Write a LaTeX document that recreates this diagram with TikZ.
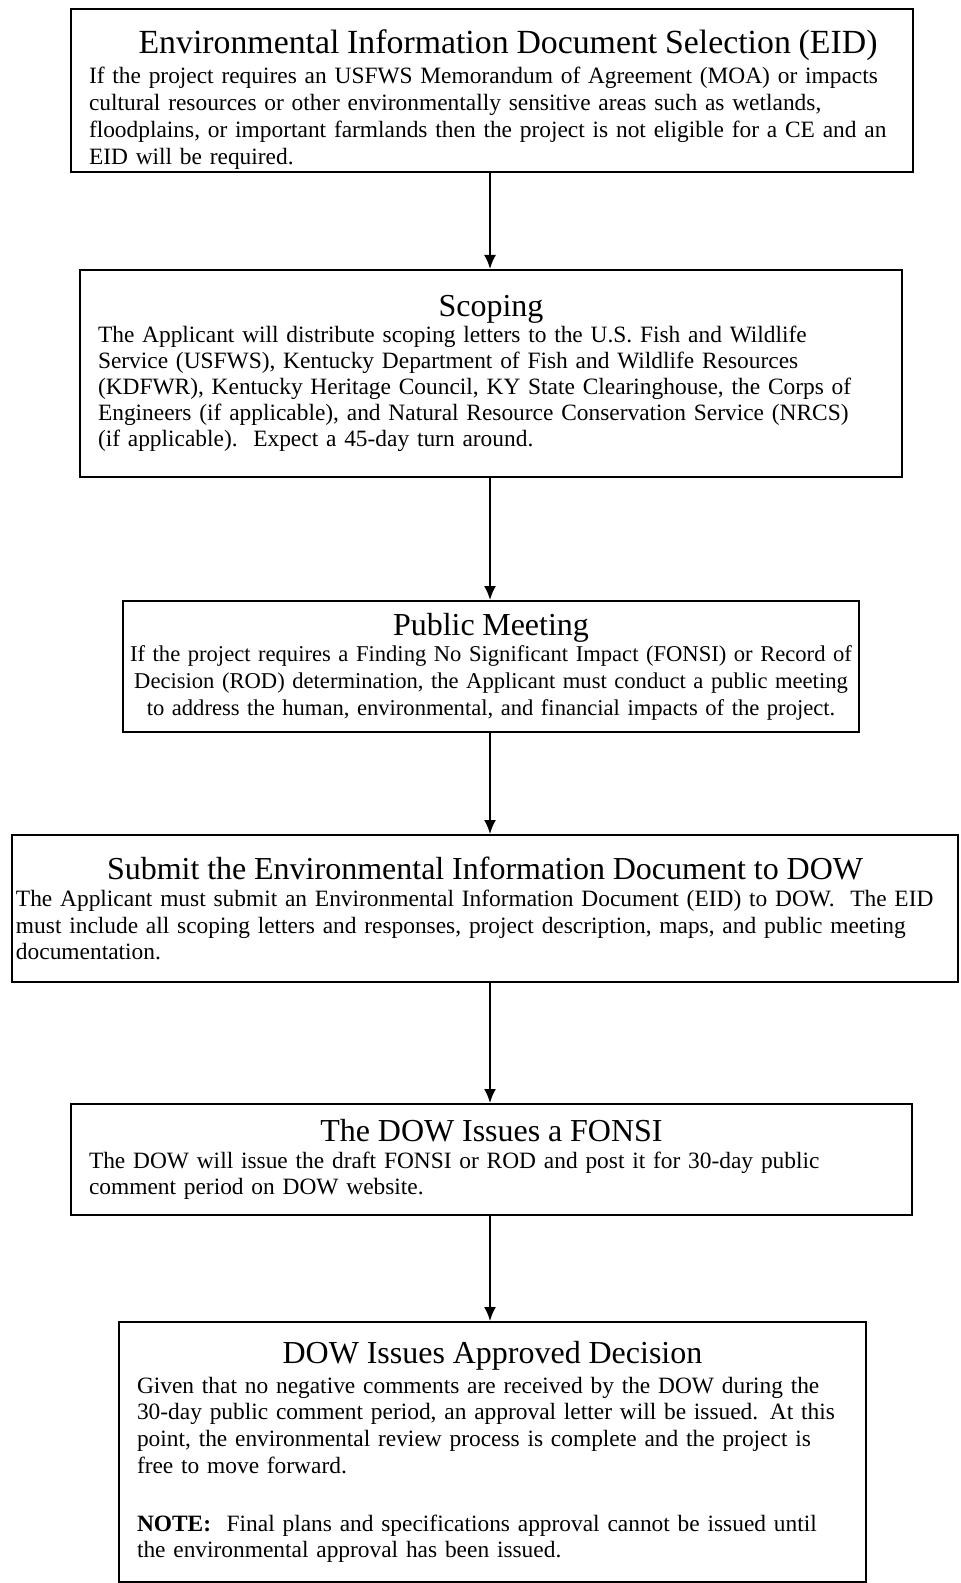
\documentclass[tikz,border=0pt]{standalone}
\usepackage{fontspec}
\setmainfont{Liberation Serif}
\usetikzlibrary{arrows.meta, positioning}
\hyphenpenalty=10000
\exhyphenpenalty=10000

\tikzset{
  stage/.style={rectangle, draw=black, line width=1pt, inner sep=0pt, align=left, font=\fontsize{11.7pt}{13.4pt}\selectfont},
  flow/.style={-{Latex[length=7pt,width=6pt]}, line width=1pt}
}

\begin{document}
\begin{tikzpicture}[x=0.5pt, y=-0.5pt]
\useasboundingbox (0,0) rectangle (960,1583);

% Stage boxes
\node[stage, minimum width=421pt, minimum height=81.5pt, text width=403pt] (eid) at (492,90.5) {{\centering\fontsize{16.9pt}{19pt}\selectfont\rule{0pt}{21pt}\hspace*{16pt}Environmental Information Document Selection (EID)\par}\vspace{1.5pt}
If the project requires an USFWS Memorandum of Agreement (MOA) or impacts\\
cultural resources or other environmentally sensitive areas such as wetlands,\\
floodplains, or important farmlands then the project is not eligible for a CE and an\\
EID will be required.};

\node[stage, font=\fontsize{11.7pt}{13pt}\selectfont, minimum width=411pt, minimum height=103.5pt, text width=393pt] (scoping) at (491,373.5) {{\centering\fontsize{16pt}{19pt}\selectfont Scoping\par}
The Applicant will distribute scoping letters to the U.S. Fish and Wildlife\\
Service (USFWS), Kentucky Department of Fish and Wildlife Resources\\
(KDFWR), Kentucky Heritage Council, KY State Clearinghouse, the Corps of\\
Engineers (if applicable), and Natural Resource Conservation Service (NRCS)\\
(if applicable).\ \ Expect a 45-day turn around.\par\vspace*{12pt}};

\node[stage, font=\fontsize{11.3pt}{13.4pt}\selectfont, minimum width=368pt, minimum height=65.5pt, text width=366pt] (meeting) at (491,666.5) {\makebox[\linewidth]{\fontsize{16pt}{19pt}\selectfont Public Meeting}\\
\makebox[\linewidth]{If the project requires a Finding No Significant Impact (FONSI) or Record of}\\
\makebox[\linewidth]{Decision (ROD) determination, the Applicant must conduct a public meeting}\\
\makebox[\linewidth]{to address the human, environmental, and financial impacts of the project.}};

\node[stage, minimum width=473pt, minimum height=73.5pt, text width=469pt] (submit) at (485,908.5) {{\centering\fontsize{16pt}{19pt}\selectfont Submit the Environmental Information Document to DOW\par}
The Applicant must submit an Environmental Information Document (EID) to DOW.\ \ The EID\\
must include all scoping letters and responses, project description, maps, and public meeting\\
documentation.};

\node[stage, minimum width=420.5pt, minimum height=55.5pt, text width=402.5pt] (fonsi) at (491.5,1159.5) {{\centering\fontsize{16pt}{19pt}\selectfont The DOW Issues a FONSI\par}
The DOW will issue the draft FONSI or ROD and post it for 30-day public\\
comment period on DOW website.};

\node[stage, minimum width=373.5pt, minimum height=130pt, text width=355.5pt] (approved) at (492.5,1452) {{\centering\fontsize{16pt}{19pt}\selectfont DOW Issues Approved Decision\par}\vspace{1.5pt}
Given that no negative comments are received by the DOW during the\\
30-day public comment period, an approval letter will be issued. At this\\
point, the environmental review process is complete and the project is\\
free to move forward.\\[15.4pt]
\textbf{NOTE:}\ \ Final plans and specifications approval cannot be issued until\\
the environmental approval has been issued.\par\vspace*{-3pt}};

% Connections
\draw[flow] (eid.south -| 490,0) -- (scoping.north -| 490,0);
\draw[flow] (scoping.south -| 490,0) -- (meeting.north -| 490,0);
\draw[flow] (meeting.south -| 490,0) -- (submit.north -| 490,0);
\draw[flow] (submit.south -| 490,0) -- (fonsi.north -| 490,0);
\draw[flow] (fonsi.south -| 490,0) -- (approved.north -| 490,0);

\end{tikzpicture}
\end{document}
